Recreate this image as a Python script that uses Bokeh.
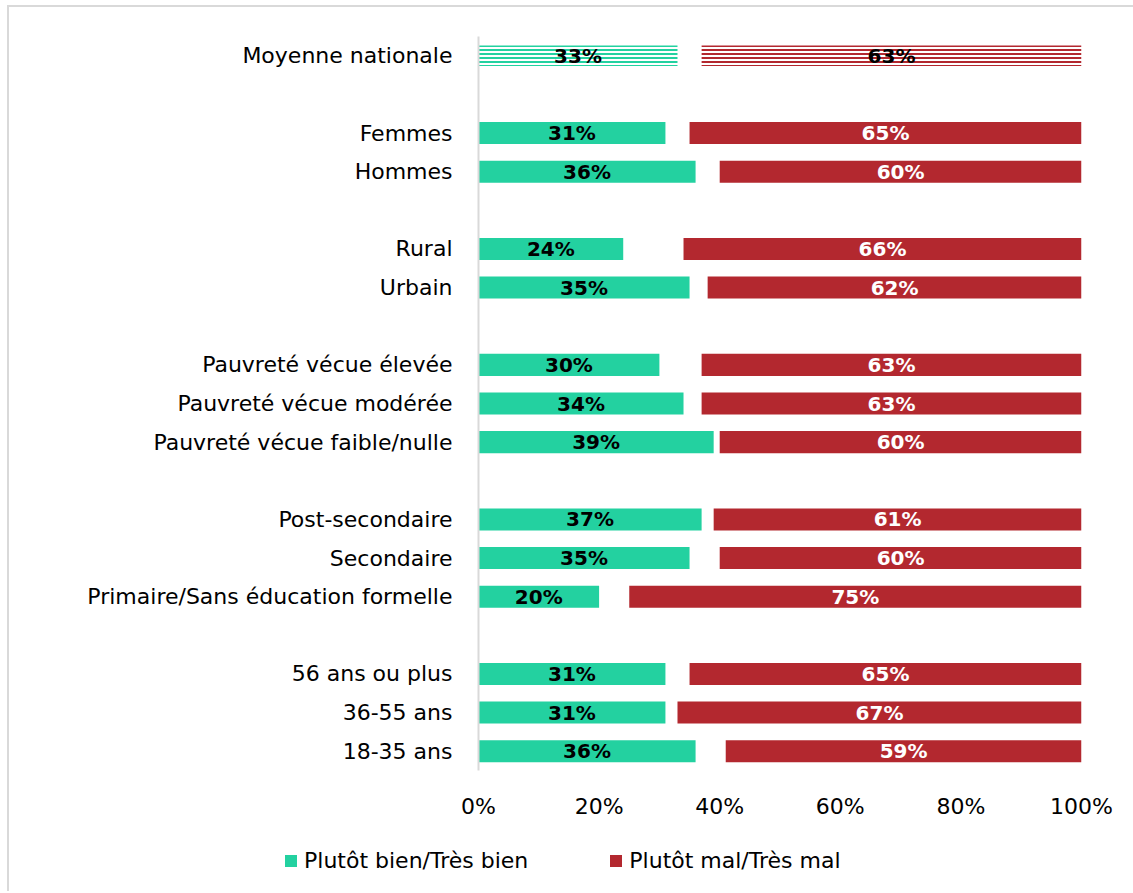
from bokeh.plotting import figure
from bokeh.layouts import column
from bokeh.models import Range1d, FixedTicker, Legend, LegendItem, ColumnDataSource
from bokeh.core.properties import value
from bokeh.embed import file_html
from bokeh.resources import INLINE

categories = ["Moyenne nationale", "Femmes", "Hommes", "Rural", "Urbain",
              "Pauvreté vécue élevée", "Pauvreté vécue modérée", "Pauvreté vécue faible/nulle",
              "Post-secondaire", "Secondaire", "Primaire/Sans éducation formelle",
              "56 ans ou plus", "36-55 ans", "18-35 ans"]
positions = [0, 2, 3, 5, 6, 8, 9, 10, 12, 13, 14, 16, 17, 18]
bien = [33, 31, 36, 24, 35, 30, 34, 39, 37, 35, 20, 31, 31, 36]
mal = [63, 65, 60, 66, 62, 63, 63, 60, 61, 60, 75, 65, 67, 59]
series_names = ["Plutôt bien/Très bien", "Plutôt mal/Très mal"]
tick_values = [0, 20, 40, 60, 80, 100]

GREEN = "#23D1A0"
RED = "#B3282F"
FONT = "DejaVu Sans"
W = 1124

p = figure(width=W, height=814, output_backend="svg", toolbar_location=None,
           x_range=Range1d(0, 100), y_range=Range1d(18.5, -0.5),
           min_border_left=469, min_border_right=W - 1072, min_border_top=29, min_border_bottom=50)
p.frame_align = False
p.outline_line_color = None
p.xgrid.grid_line_color = None
p.ygrid.grid_line_color = None


def make_source(idx):
    return ColumnDataSource(dict(
        y=[positions[i] for i in idx],
        bien=[bien[i] for i in idx],
        left=[100 - mal[i] for i in idx],
        right=[100 for i in idx],
        bx=[bien[i] / 2 for i in idx],
        rx=[100 - mal[i] / 2 for i in idx],
        bl=[f"{bien[i]}%" for i in idx],
        rl=[f"{mal[i]}%" for i in idx]))


main = make_source(range(1, len(categories)))
avg = make_source([0])

H = 0.57
p.hbar(y="y", left=0, right="bien", height=H, source=main, fill_color=GREEN, line_color=None)
p.hbar(y="y", left="left", right="right", height=H, source=main, fill_color=RED, line_color=None)
p.hbar(y="y", left=0, right="bien", height=0.53, source=avg, fill_color="white", line_color=None,
       hatch_pattern="horizontal_line", hatch_color=GREEN, hatch_scale=4, hatch_weight=2)
p.hbar(y="y", left="left", right="right", height=0.53, source=avg, fill_color="white", line_color=None,
       hatch_pattern="horizontal_line", hatch_color=RED, hatch_scale=4, hatch_weight=2)

common = dict(text_align="center", text_baseline="middle", text_font=value(FONT),
              text_font_style="bold", text_font_size="20px")
p.text(x="bx", y="y", text="bl", source=main, text_color="black", **common)
p.text(x="rx", y="y", text="rl", source=main, text_color="white", **common)
p.text(x="bx", y="y", text="bl", source=avg, text_color="black", **common)
p.text(x="rx", y="y", text="rl", source=avg, text_color="black", **common)

ya = p.yaxis[0]
ya.ticker = FixedTicker(ticks=positions)
ya.major_label_overrides = {pos: c for pos, c in zip(positions, categories)}
ya.axis_line_color = "#d9d9d9"
ya.axis_line_width = 2
ya.major_tick_line_color = None
ya.minor_tick_line_color = None
ya.major_label_standoff = 20
ya.major_label_text_font = FONT
ya.major_label_text_font_size = "22px"
ya.major_label_text_color = "black"

xa = p.xaxis[0]
xa.ticker = FixedTicker(ticks=tick_values)
xa.major_label_overrides = {v: f"{v}%" for v in tick_values}
xa.axis_line_color = None
xa.major_tick_line_color = None
xa.minor_tick_line_color = None
xa.major_label_standoff = 17
xa.major_label_text_font = FONT
xa.major_label_text_font_size = "22px"
xa.major_label_text_color = "black"

# legend strip
LH = 70
q = figure(width=W, height=LH, output_backend="svg", toolbar_location=None,
           x_range=Range1d(0, 1), y_range=Range1d(0, 1),
           min_border_left=0, min_border_right=0, min_border_top=0, min_border_bottom=0)
q.frame_align = False
q.axis.visible = False
q.xgrid.grid_line_color = None
q.ygrid.grid_line_color = None
q.outline_line_color = None
offscreen = ColumnDataSource(dict(y=[5], left=[5], right=[6]))
lg = q.hbar(y="y", left="left", right="right", height=1, source=offscreen, fill_color=GREEN, line_color=None)
lr = q.hbar(y="y", left="left", right="right", height=1, source=offscreen, fill_color=RED, line_color=None)
legend = Legend(items=[LegendItem(label=series_names[0], renderers=[lg]),
                       LegendItem(label=series_names[1], renderers=[lr])],
                orientation="horizontal", location=(274, 18),
                label_text_font=FONT, label_text_font_size="22px", label_text_color="black",
                glyph_width=15, glyph_height=15, label_standoff=6, spacing=80,
                padding=4, margin=0, border_line_color=None, background_fill_alpha=0)
q.add_layout(legend, "center")

layout = column(p, q, spacing=0,
                styles={"border-top": "2px solid #d9d9d9", "border-left": "2px solid #d9d9d9",
                        "margin-left": "7px", "margin-top": "5px"})

open("out.html", "w").write(file_html(layout, INLINE))
